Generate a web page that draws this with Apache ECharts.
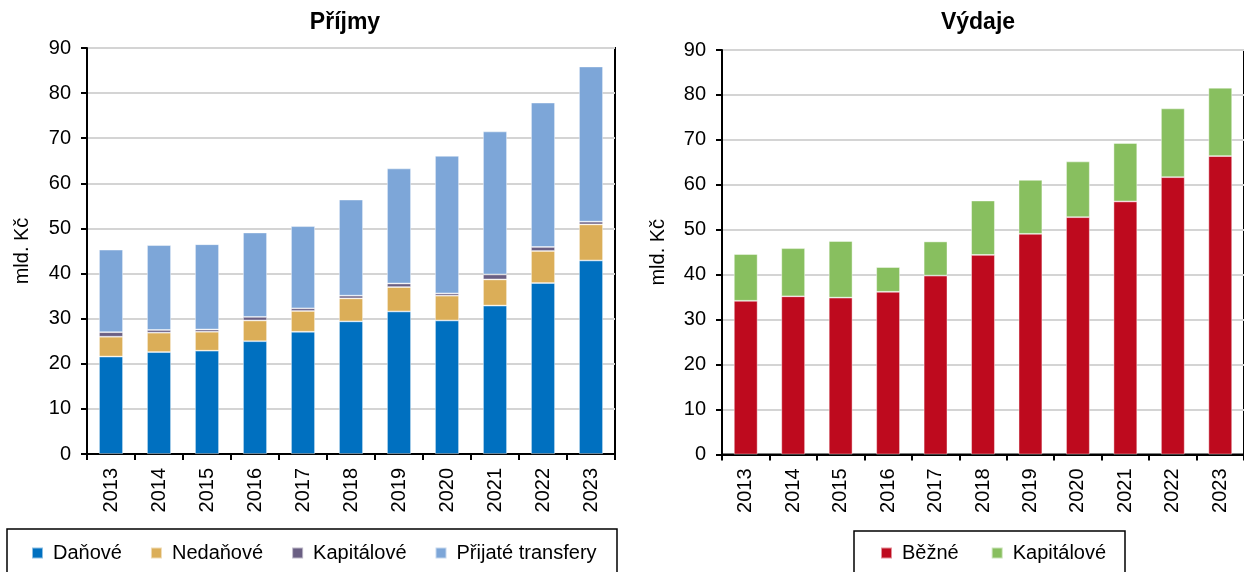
<!DOCTYPE html>
<html>
<head>
<meta charset="utf-8">
<script src="https://cdn.jsdelivr.net/npm/echarts@6/dist/echarts.min.js"></script>
<style>
html,body{margin:0;padding:0;background:#fff;}
#wrap{position:relative;width:1244px;height:572px;overflow:hidden;}
#c1{position:absolute;left:0;top:0;width:622px;height:572px;}
#c2{position:absolute;left:622px;top:0;width:622px;height:572px;}
</style>
</head>
<body>
<div id="wrap"><div id="c1"></div><div id="c2"></div></div>
<script>
const years = ['2013','2014','2015','2016','2017','2018','2019','2020','2021','2022','2023'];
const yTicks = [0, 90, 10]; // min, max, interval

// Příjmy (mld. Kč)
const danove     = [21.6, 22.6, 22.9, 25.0, 27.1, 29.4, 31.6, 29.6, 32.9, 37.9, 42.9];
const nedanove   = [4.4, 4.3, 4.2, 4.6, 4.6, 5.1, 5.4, 5.5, 5.8, 7.1, 8.0];
const kapitalPrij= [1.0, 0.6, 0.5, 0.8, 0.6, 0.6, 0.8, 0.5, 1.1, 0.9, 0.6];
const transfery  = [18.3, 18.8, 18.9, 18.7, 18.2, 21.3, 25.5, 30.5, 31.7, 32.0, 34.4];

// Výdaje (mld. Kč)
const bezne      = [34.2, 35.2, 34.9, 36.2, 39.8, 44.4, 49.1, 52.8, 56.3, 61.7, 66.4];
const kapitalVyd = [10.4, 10.7, 12.6, 5.5, 7.6, 12.1, 12.0, 12.4, 13.0, 15.3, 15.2];

const FONT = '"Liberation Sans", Arial, sans-serif';

function baseOption(title, titleX, gridLeft, gridTop, gridH, nameGap) {
  return {
    animation: false,
    textStyle: { fontFamily: FONT, color: '#000' },
    title: {
      text: title, left: titleX, top: 11, textAlign: 'center', padding: 0,
      textStyle: { fontFamily: FONT, fontSize: 23, fontWeight: 'bold', color: '#000' }
    },
    grid: { left: gridLeft, top: gridTop, width: 528, height: gridH, show: true,
            borderColor: '#000', borderWidth: 2, backgroundColor: 'transparent' },
    xAxis: {
      type: 'category', data: years,
      axisLine: { lineStyle: { color: '#000', width: 2 } },
      axisTick: { show: true, length: 6, lineStyle: { color: '#000', width: 2 } },
      axisLabel: { rotate: 90, fontSize: 20, color: '#000', margin: 14, fontFamily: FONT }
    },
    yAxis: {
      type: 'value', min: yTicks[0], max: yTicks[1], interval: yTicks[2],
      name: 'mld. Kč', nameLocation: 'middle', nameRotate: 90, nameGap: nameGap,
      nameTextStyle: { fontSize: 20, color: '#000', fontFamily: FONT },
      axisLine: { show: true, lineStyle: { color: '#000', width: 2 } },
      axisTick: { show: true, length: 6, lineStyle: { color: '#000', width: 2 } },
      axisLabel: { fontSize: 20, color: '#000', margin: 16, fontFamily: FONT },
      splitLine: { lineStyle: { color: '#D4D4D4', width: 2 } }
    }
  };
}

function bar(name, data, color) {
  return { name: name, type: 'bar', stack: 's', data: data, barWidth: '50%',
           itemStyle: { color: color, borderColor: 'rgba(255,255,255,0.55)', borderWidth: 0.8 } };
}

const c1 = echarts.init(document.getElementById('c1'), null, { renderer: 'canvas' });
const o1 = baseOption('Příjmy', 345, 87, 48, 406, 55);
o1.series = [
  bar('Daňové', danove, '#0070C0'),
  bar('Nedaňové', nedanove, '#DBAE58'),
  bar('Kapitálové', kapitalPrij, '#6A5F83'),
  bar('Přijaté transfery', transfery, '#7DA6D8')
];
o1.legend = {
  left: 31, top: 543, padding: 0, itemWidth: 11, itemHeight: 11, itemGap: 28, icon: 'rect',
  textStyle: { fontSize: 20, color: '#000', fontFamily: FONT, padding: [0, 0, 0, 5] },
  data: ['Daňové', 'Nedaňové', 'Kapitálové', 'Přijaté transfery']
};
o1.graphic = [{ type: 'rect', shape: { x: 7, y: 529, width: 610, height: 60 },
  style: { fill: 'none', stroke: '#000', lineWidth: 1.5 }, silent: true }];
c1.setOption(o1);

const c2 = echarts.init(document.getElementById('c2'), null, { renderer: 'canvas' });
const o2 = baseOption('Výdaje', 356, 100, 50, 404.5, 54);
o2.series = [
  bar('Běžné', bezne, '#BE0A1E'),
  bar('Kapitálové', kapitalVyd, '#88BF5F')
];
o2.legend = {
  left: 258, top: 543, padding: 0, itemWidth: 11, itemHeight: 11, itemGap: 32, icon: 'rect',
  textStyle: { fontSize: 20, color: '#000', fontFamily: FONT, padding: [0, 0, 0, 5] },
  data: ['Běžné', 'Kapitálové']
};
o2.graphic = [{ type: 'rect', shape: { x: 232, y: 531, width: 271, height: 60 },
  style: { fill: 'none', stroke: '#000', lineWidth: 1.5 }, silent: true }];
c2.setOption(o2);
</script>
</body>
</html>
